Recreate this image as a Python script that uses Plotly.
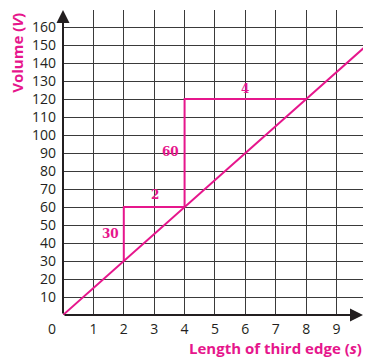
import plotly.graph_objects as go

# data
line_s = [0, 10]
line_v = [0, 150]
step1_s = [2, 2, 4]
step1_v = [30, 60, 60]
step2_s = [4, 4, 8]
step2_v = [60, 120, 120]
step_labels = ["30", "2", "60", "4"]
label_s = [1.55, 3.02, 3.54, 5.98]
label_v = [45, 66.5, 90.5, 125.5]
x_ticks = [1, 2, 3, 4, 5, 6, 7, 8, 9]
y_ticks = [10, 20, 30, 40, 50, 60, 70, 80, 90, 100, 110, 120, 130, 140, 150, 160]

PINK = "#e6168c"
INK = "#231f20"

fig = go.Figure()
fig.add_trace(go.Scatter(x=line_s, y=line_v, mode="lines",
                         line=dict(color=PINK, width=2), hoverinfo="skip"))
fig.add_trace(go.Scatter(x=step1_s, y=step1_v, mode="lines",
                         line=dict(color=PINK, width=2), hoverinfo="skip"))
fig.add_trace(go.Scatter(x=step2_s, y=step2_v, mode="lines",
                         line=dict(color=PINK, width=2), hoverinfo="skip"))

for t, xs, yv in zip(step_labels, label_s, label_v):
    fig.add_annotation(x=xs, y=yv, text="<b>" + t + "</b>", showarrow=False,
                       font=dict(family="DejaVu Serif", size=12, color=PINK))

# axes with arrows
fig.add_annotation(xref="paper", x=1.0, yref="y", y=0, ax=-300, ay=0,
                   axref="pixel", ayref="pixel", text="", showarrow=True,
                   arrowhead=2, arrowsize=1.3, arrowwidth=2, arrowcolor=INK)
fig.add_annotation(xref="x", x=0, yref="paper", y=1.0, ax=0, ay=305,
                   axref="pixel", ayref="pixel", text="", showarrow=True,
                   arrowhead=2, arrowsize=1.3, arrowwidth=2, arrowcolor=INK)

# origin label
fig.add_annotation(x=0, y=0, text="0", showarrow=False, xshift=-11, yshift=-13,
                   font=dict(family="Open Sans", size=14, color=INK))

# axis titles
fig.add_annotation(xref="paper", yref="paper", x=-0.153, y=0.86,
                   xanchor="center", yanchor="middle",
                   text="<b>Volume (<i>V</i>)</b>", textangle=-90, showarrow=False,
                   font=dict(family="Open Sans", size=15, color=PINK))
fig.add_annotation(xref="paper", yref="paper", x=1.005, y=-0.108, xanchor="right",
                   yanchor="middle",
                   text="<b>Length of third edge (<i>s</i>)</b>", showarrow=False,
                   font=dict(family="Open Sans", size=15, color=PINK))

fig.update_xaxes(range=[0, 9.87], tickvals=x_ticks, showgrid=True, automargin=False,
                 gridcolor="#3a3a3a", gridwidth=1.3, zeroline=False, showline=False,
                 tickfont=dict(family="Open Sans", size=14, color=INK),
                 ticks="", ticklabelstandoff=4, fixedrange=True)
fig.update_yaxes(range=[0, 169.5], tickvals=y_ticks, showgrid=True, automargin=False,
                 gridcolor="#3a3a3a", gridwidth=1.3, zeroline=False, showline=False,
                 tickfont=dict(family="Open Sans", size=14, color=INK),
                 ticks="", ticklabelstandoff=6, fixedrange=True)

fig.update_layout(width=365, height=359, showlegend=False,
                  margin=dict(l=63, r=2, t=10, b=44, autoexpand=False),
                  plot_bgcolor="white", paper_bgcolor="white")

fig.write_html("out.html", config={"displayModeBar": False},
               post_script="document.body.style.margin='0';")
